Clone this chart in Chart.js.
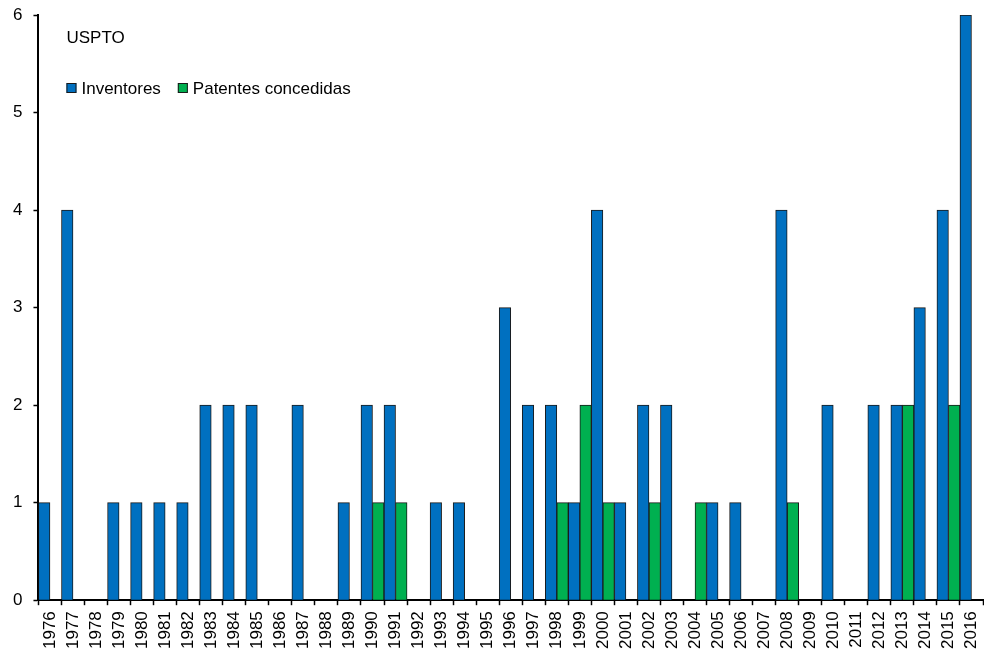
<!DOCTYPE html>
<html>
<head>
<meta charset="utf-8">
<script src="https://cdn.jsdelivr.net/npm/chart.js@4"></script>
<style>
  html, body { margin: 0; padding: 0; background: #fff; }
  #wrap { width: 984px; height: 655px; }
</style>
</head>
<body>
<div id="wrap"><canvas id="chart1"></canvas></div>
<script>
var years = ['1976','1977','1978','1979','1980','1981','1982','1983','1984','1985',
  '1986','1987','1988','1989','1990','1991','1992','1993','1994','1995',
  '1996','1997','1998','1999','2000','2001','2002','2003','2004','2005',
  '2006','2007','2008','2009','2010','2011','2012','2013','2014','2015','2016'];

var inventores = [1,4,0,1,1,1,1,2,2,2,
  0,2,0,1,2,2,0,1,1,0,
  3,2,2,1,4,1,2,2,0,1,
  1,0,4,0,2,0,2,2,3,4,6];

var patentes = [0,0,0,0,0,0,0,0,0,0,
  0,0,0,0,1,1,0,0,0,0,
  0,0,1,2,1,0,1,0,1,0,
  0,0,1,0,0,0,0,2,0,2,0];

var yTicks = [0,1,2,3,4,5,6];
var legendTitle = 'USPTO';

var FONT = '"Liberation Sans", Arial, Helvetica, sans-serif';
Chart.defaults.font.family = FONT;
Chart.defaults.color = '#000';

// legend drawn inside the plot, title on its own line
var insideLegend = {
  id: 'insideLegend',
  afterDraw: function (chart) {
    var c = chart.ctx;
    var area = chart.chartArea;
    var x0 = area.left + 28;
    c.save();
    c.font = '17px ' + FONT;
    c.fillStyle = '#000';
    c.textBaseline = 'middle';
    c.textAlign = 'left';
    c.fillText(legendTitle, x0, area.top + 23);
    var x = x0;
    var y = area.top + 73;
    chart.data.datasets.forEach(function (ds) {
      c.fillStyle = ds.backgroundColor;
      c.fillRect(x, y - 5, 10, 10);
      c.strokeStyle = '#1a1a1a';
      c.lineWidth = 1;
      c.strokeRect(x + 0.5, y - 4.5, 9, 9);
      c.fillStyle = '#000';
      c.fillText(ds.label, x + 15, y + 1);
      x += 15 + c.measureText(ds.label).width + 17;
    });
    c.restore();
  }
};

var ctx = document.getElementById('chart1').getContext('2d');
new Chart(ctx, {
  type: 'bar',
  data: {
    labels: years,
    datasets: [{
      label: 'Inventores',
      data: inventores,
      backgroundColor: '#0070C0',
      borderColor: '#1a1a1a',
      borderWidth: 1
    }, {
      label: 'Patentes concedidas',
      data: patentes,
      backgroundColor: '#00B050',
      borderColor: '#1a1a1a',
      borderWidth: 1
    }]
  },
  plugins: [insideLegend],
  options: {
    responsive: true,
    maintainAspectRatio: false,
    animation: false,
    categoryPercentage: 1,
    barPercentage: 1,
    layout: {
      padding: { top: 15, right: 1, left: 2, bottom: 0 }
    },
    plugins: {
      tooltip: { enabled: false },
      legend: { display: false }
    },
    scales: {
      x: {
        afterFit: function (s) {
          s.paddingLeft = 0;
          s.paddingRight = 0;
        },
        grid: {
          display: true,
          offset: true,
          drawOnChartArea: false,
          tickLength: 5,
          tickWidth: 1.5,
          color: '#000'
        },
        border: { display: true, color: '#000', width: 2 },
        ticks: {
          autoSkip: false,
          maxRotation: 90,
          minRotation: 90,
          padding: 6,
          font: { size: 17 },
          color: '#000'
        }
      },
      y: {
        min: 0,
        max: 6,
        afterFit: function (s) {
          s.paddingTop = 0;
          s.paddingBottom = 0;
        },
        afterBuildTicks: function (axis) {
          axis.ticks = yTicks.map(function (v) { return { value: v }; });
        },
        grid: {
          display: true,
          drawOnChartArea: false,
          tickLength: 5,
          tickWidth: 1.5,
          color: '#000'
        },
        border: { display: true, color: '#000', width: 2 },
        ticks: {
          padding: 11,
          font: { size: 17 },
          color: '#000'
        }
      }
    }
  }
});
</script>
</body>
</html>
